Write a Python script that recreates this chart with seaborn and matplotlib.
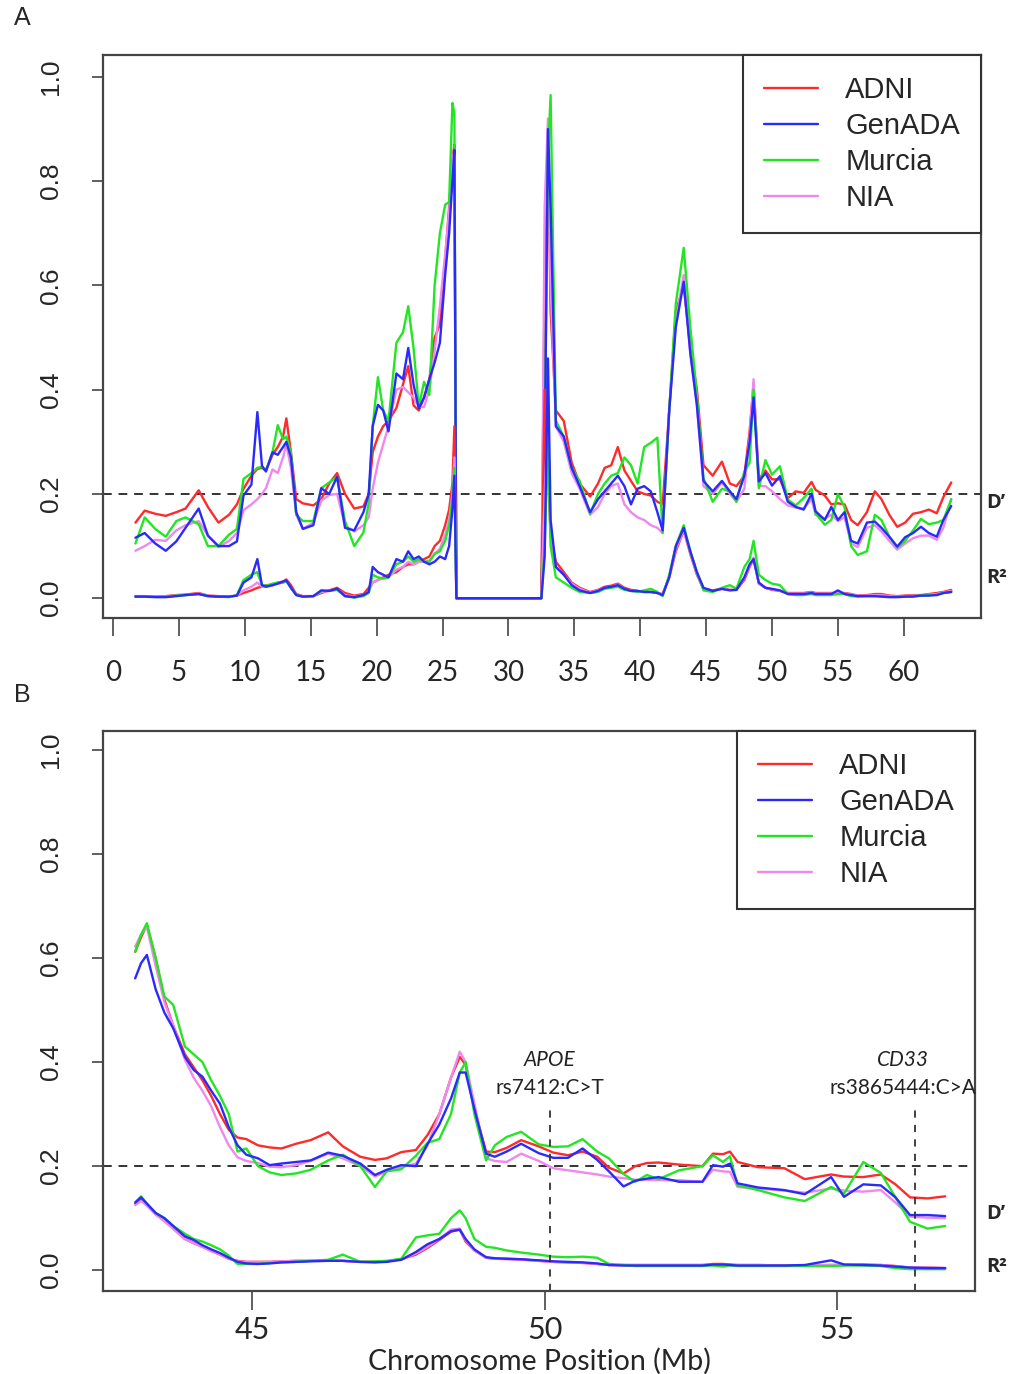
import numpy as np
import pandas as pd
import matplotlib
matplotlib.use("Agg")
import matplotlib.pyplot as plt
from matplotlib.lines import Line2D
from matplotlib import font_manager
import seaborn as sns

# ---------------- data: panel A (whole region) ----------------
cohorts = ["ADNI", "GenADA", "Murcia", "NIA"]
colors = {"ADNI": "#FF2A2A", "GenADA": "#2A2AFF", "Murcia": "#22E622", "NIA": "#EE88EE"}

pos_a = [1.7, 2.4, 3.2, 4.0, 4.8, 5.5, 6.5, 7.2, 8.0, 8.8,
         9.4, 9.9, 10.5, 10.95, 11.3, 11.6, 12.1, 12.5, 12.9, 13.15,
         13.5, 13.9, 14.4, 15.2, 15.8, 16.4, 17.0, 17.6, 18.3, 19.0,
         19.4, 19.7, 20.1, 20.5, 20.9, 21.5, 22.0, 22.4, 22.8, 23.2,
         23.6, 24.0, 24.4, 24.8, 25.2, 25.5, 25.75, 25.9, 26.05, 32.5,
         32.75, 33.0, 33.2, 33.6, 34.2, 34.8, 35.4, 36.2, 36.8, 37.3,
         37.8, 38.3, 38.8, 39.3, 39.8, 40.3, 40.8, 41.3, 41.7, 42.2,
         42.7, 43.3, 43.8, 44.3, 44.8, 45.5, 46.2, 46.8, 47.3, 47.9,
         48.3, 48.6, 49.0, 49.5, 50.0, 50.6, 51.2, 51.8, 52.4, 53.0,
         53.3, 54.0, 54.5, 55.0, 55.5, 56.0, 56.5, 57.2, 57.8, 58.3,
         58.9, 59.5, 60.1, 60.7, 61.3, 61.9, 62.5, 63.0, 63.6]

dprime_a_adni = [0.145, 0.168, 0.162, 0.158, 0.165, 0.172, 0.207, 0.175, 0.145, 0.160,
                 0.180, 0.210, 0.235, 0.248, 0.250, 0.245, 0.275, 0.290, 0.310, 0.345,
                 0.280, 0.190, 0.182, 0.178, 0.190, 0.220, 0.240, 0.200, 0.172, 0.176,
                 0.200, 0.280, 0.310, 0.330, 0.340, 0.365, 0.410, 0.445, 0.370, 0.360,
                 0.385, 0.420, 0.500, 0.525, 0.650, 0.750, 0.840, 0.870, 0.000, 0.000,
                 0.600, 0.880, 0.550, 0.360, 0.340, 0.260, 0.220, 0.195, 0.220, 0.250,
                 0.255, 0.290, 0.245, 0.225, 0.205, 0.200, 0.197, 0.185, 0.180, 0.360,
                 0.550, 0.600, 0.480, 0.400, 0.255, 0.235, 0.262, 0.220, 0.215, 0.235,
                 0.320, 0.410, 0.228, 0.245, 0.228, 0.228, 0.192, 0.205, 0.202, 0.223,
                 0.208, 0.197, 0.180, 0.182, 0.180, 0.150, 0.140, 0.165, 0.205, 0.190,
                 0.160, 0.137, 0.145, 0.162, 0.165, 0.170, 0.163, 0.194, 0.222]
dprime_a_genada = [0.116, 0.125, 0.105, 0.091, 0.109, 0.135, 0.172, 0.120, 0.100, 0.100,
                   0.109, 0.197, 0.218, 0.357, 0.254, 0.243, 0.280, 0.275, 0.290, 0.300,
                   0.270, 0.165, 0.133, 0.140, 0.211, 0.200, 0.233, 0.135, 0.130, 0.165,
                   0.200, 0.330, 0.371, 0.360, 0.320, 0.431, 0.420, 0.480, 0.410, 0.364,
                   0.385, 0.420, 0.452, 0.490, 0.620, 0.700, 0.800, 0.860, 0.000, 0.000,
                   0.250, 0.900, 0.750, 0.330, 0.310, 0.250, 0.215, 0.165, 0.190, 0.205,
                   0.220, 0.235, 0.215, 0.180, 0.210, 0.215, 0.205, 0.165, 0.130, 0.360,
                   0.520, 0.607, 0.470, 0.370, 0.225, 0.205, 0.225, 0.205, 0.190, 0.235,
                   0.300, 0.385, 0.224, 0.240, 0.216, 0.234, 0.185, 0.175, 0.170, 0.200,
                   0.167, 0.150, 0.175, 0.150, 0.165, 0.110, 0.105, 0.145, 0.147, 0.135,
                   0.118, 0.099, 0.117, 0.125, 0.137, 0.125, 0.118, 0.150, 0.177]
dprime_a_murcia = [0.105, 0.155, 0.133, 0.118, 0.148, 0.155, 0.142, 0.100, 0.100, 0.122,
                   0.133, 0.229, 0.240, 0.250, 0.252, 0.245, 0.280, 0.332, 0.305, 0.310,
                   0.280, 0.160, 0.148, 0.148, 0.211, 0.222, 0.233, 0.148, 0.100, 0.126,
                   0.183, 0.330, 0.424, 0.360, 0.340, 0.490, 0.510, 0.560, 0.480, 0.367,
                   0.415, 0.390, 0.600, 0.700, 0.755, 0.760, 0.950, 0.930, 0.000, 0.000,
                   0.300, 0.850, 0.965, 0.340, 0.310, 0.250, 0.225, 0.162, 0.200, 0.220,
                   0.235, 0.240, 0.270, 0.255, 0.220, 0.290, 0.298, 0.308, 0.125, 0.360,
                   0.565, 0.672, 0.520, 0.390, 0.230, 0.185, 0.210, 0.205, 0.185, 0.243,
                   0.260, 0.400, 0.211, 0.265, 0.237, 0.253, 0.189, 0.178, 0.192, 0.210,
                   0.163, 0.141, 0.150, 0.200, 0.175, 0.100, 0.083, 0.090, 0.160, 0.150,
                   0.118, 0.097, 0.110, 0.130, 0.152, 0.142, 0.145, 0.150, 0.190]
dprime_a_nia = [0.091, 0.100, 0.112, 0.110, 0.130, 0.140, 0.148, 0.120, 0.098, 0.110,
                0.125, 0.169, 0.180, 0.190, 0.200, 0.211, 0.247, 0.240, 0.270, 0.295,
                0.250, 0.160, 0.133, 0.145, 0.187, 0.198, 0.200, 0.140, 0.128, 0.140,
                0.155, 0.210, 0.260, 0.295, 0.330, 0.400, 0.405, 0.395, 0.385, 0.367,
                0.367, 0.400, 0.474, 0.560, 0.660, 0.740, 0.840, 0.860, 0.000, 0.000,
                0.750, 0.920, 0.600, 0.330, 0.300, 0.240, 0.210, 0.160, 0.175, 0.200,
                0.215, 0.220, 0.180, 0.165, 0.155, 0.150, 0.140, 0.135, 0.125, 0.360,
                0.530, 0.620, 0.470, 0.370, 0.215, 0.200, 0.222, 0.200, 0.185, 0.210,
                0.310, 0.420, 0.215, 0.215, 0.205, 0.190, 0.178, 0.174, 0.172, 0.190,
                0.160, 0.153, 0.160, 0.148, 0.155, 0.105, 0.098, 0.135, 0.140, 0.128,
                0.110, 0.093, 0.105, 0.115, 0.120, 0.120, 0.112, 0.135, 0.190]

r2_a_adni = [0.004, 0.004, 0.003, 0.004, 0.006, 0.007, 0.010, 0.005, 0.004, 0.003,
             0.005, 0.010, 0.015, 0.020, 0.022, 0.025, 0.025, 0.030, 0.032, 0.036,
             0.025, 0.008, 0.004, 0.004, 0.010, 0.015, 0.020, 0.010, 0.005, 0.008,
             0.020, 0.030, 0.035, 0.040, 0.045, 0.050, 0.060, 0.065, 0.065, 0.070,
             0.075, 0.080, 0.100, 0.110, 0.140, 0.170, 0.220, 0.330, 0.000, 0.000,
             0.400, 0.250, 0.120, 0.070, 0.050, 0.030, 0.020, 0.012, 0.016, 0.022,
             0.024, 0.028, 0.020, 0.016, 0.014, 0.012, 0.012, 0.010, 0.008, 0.040,
             0.090, 0.130, 0.085, 0.045, 0.018, 0.015, 0.018, 0.016, 0.016, 0.035,
             0.060, 0.075, 0.028, 0.020, 0.016, 0.014, 0.010, 0.010, 0.010, 0.012,
             0.010, 0.010, 0.010, 0.010, 0.010, 0.008, 0.005, 0.006, 0.008, 0.008,
             0.005, 0.004, 0.005, 0.006, 0.006, 0.008, 0.010, 0.012, 0.016]
r2_a_genada = [0.003, 0.003, 0.002, 0.002, 0.004, 0.006, 0.008, 0.004, 0.003, 0.003,
               0.005, 0.030, 0.040, 0.075, 0.025, 0.022, 0.025, 0.028, 0.032, 0.034,
               0.020, 0.006, 0.003, 0.004, 0.015, 0.014, 0.018, 0.004, 0.002, 0.006,
               0.012, 0.060, 0.050, 0.045, 0.040, 0.075, 0.070, 0.090, 0.075, 0.080,
               0.070, 0.065, 0.070, 0.080, 0.075, 0.100, 0.170, 0.235, 0.000, 0.000,
               0.080, 0.460, 0.150, 0.060, 0.045, 0.025, 0.015, 0.010, 0.014, 0.020,
               0.022, 0.025, 0.018, 0.014, 0.014, 0.012, 0.012, 0.010, 0.006, 0.040,
               0.100, 0.135, 0.090, 0.050, 0.020, 0.014, 0.018, 0.015, 0.016, 0.040,
               0.065, 0.075, 0.030, 0.020, 0.018, 0.015, 0.008, 0.008, 0.008, 0.010,
               0.008, 0.008, 0.008, 0.015, 0.008, 0.006, 0.004, 0.004, 0.004, 0.003,
               0.002, 0.002, 0.003, 0.003, 0.005, 0.005, 0.006, 0.010, 0.012]
r2_a_murcia = [0.003, 0.004, 0.003, 0.003, 0.005, 0.006, 0.008, 0.004, 0.003, 0.002,
               0.006, 0.035, 0.045, 0.050, 0.025, 0.024, 0.028, 0.030, 0.030, 0.033,
               0.020, 0.006, 0.003, 0.004, 0.014, 0.014, 0.016, 0.004, 0.001, 0.004,
               0.010, 0.045, 0.040, 0.038, 0.040, 0.065, 0.070, 0.080, 0.070, 0.075,
               0.070, 0.070, 0.085, 0.090, 0.110, 0.140, 0.190, 0.250, 0.000, 0.000,
               0.100, 0.300, 0.100, 0.040, 0.030, 0.020, 0.012, 0.010, 0.012, 0.018,
               0.020, 0.022, 0.016, 0.014, 0.012, 0.015, 0.018, 0.012, 0.004, 0.045,
               0.100, 0.140, 0.090, 0.050, 0.015, 0.012, 0.020, 0.025, 0.018, 0.060,
               0.075, 0.110, 0.045, 0.035, 0.028, 0.025, 0.008, 0.006, 0.006, 0.008,
               0.006, 0.006, 0.006, 0.008, 0.008, 0.004, 0.003, 0.004, 0.004, 0.004,
               0.003, 0.003, 0.004, 0.004, 0.005, 0.006, 0.007, 0.010, 0.012]
r2_a_nia = [0.003, 0.003, 0.003, 0.003, 0.005, 0.006, 0.009, 0.005, 0.003, 0.003,
            0.005, 0.015, 0.022, 0.030, 0.022, 0.022, 0.025, 0.028, 0.030, 0.033,
            0.020, 0.007, 0.004, 0.004, 0.012, 0.014, 0.017, 0.006, 0.003, 0.006,
            0.012, 0.030, 0.035, 0.038, 0.040, 0.055, 0.060, 0.070, 0.065, 0.070,
            0.070, 0.072, 0.085, 0.095, 0.120, 0.150, 0.200, 0.270, 0.000, 0.000,
            0.200, 0.350, 0.120, 0.060, 0.045, 0.028, 0.018, 0.011, 0.015, 0.020,
            0.022, 0.026, 0.018, 0.014, 0.013, 0.012, 0.012, 0.010, 0.007, 0.040,
            0.095, 0.130, 0.088, 0.047, 0.018, 0.014, 0.018, 0.016, 0.016, 0.038,
            0.062, 0.078, 0.028, 0.020, 0.017, 0.014, 0.009, 0.009, 0.009, 0.011,
            0.009, 0.009, 0.009, 0.010, 0.009, 0.007, 0.005, 0.005, 0.006, 0.006,
            0.004, 0.003, 0.004, 0.005, 0.005, 0.007, 0.008, 0.011, 0.014]

# ---------------- data: panel B (zoom 43-57 Mb) ----------------
pos_b = [43.0, 43.1, 43.2, 43.35, 43.5, 43.65, 43.85, 44.0, 44.15, 44.3,
         44.45, 44.6, 44.75, 44.9, 45.1, 45.3, 45.5, 45.75, 46.0, 46.3,
         46.55, 46.85, 47.1, 47.3, 47.55, 47.8, 48.0, 48.2, 48.4, 48.55,
         48.65, 48.8, 49.0, 49.15, 49.35, 49.6, 49.9, 50.15, 50.4, 50.65,
         50.9, 51.1, 51.35, 51.55, 51.75, 51.95, 52.3, 52.7, 52.88, 53.05,
         53.17, 53.3, 53.65, 54.1, 54.45, 54.9, 55.12, 55.45, 55.75, 56.0,
         56.25, 56.55, 56.85]

dprime_b_adni = [0.612, 0.640, 0.663, 0.600, 0.520, 0.470, 0.415, 0.390, 0.365, 0.335,
                 0.300, 0.270, 0.255, 0.252, 0.240, 0.236, 0.234, 0.243, 0.250, 0.265,
                 0.238, 0.218, 0.212, 0.215, 0.227, 0.231, 0.260, 0.300, 0.370, 0.410,
                 0.395, 0.310, 0.228, 0.227, 0.235, 0.250, 0.238, 0.226, 0.221, 0.228,
                 0.218, 0.197, 0.186, 0.200, 0.206, 0.207, 0.203, 0.200, 0.224, 0.223,
                 0.228, 0.208, 0.198, 0.196, 0.175, 0.184, 0.180, 0.179, 0.184, 0.165,
                 0.140, 0.138, 0.142]
dprime_b_genada = [0.561, 0.590, 0.606, 0.540, 0.495, 0.465, 0.410, 0.385, 0.372, 0.345,
                   0.320, 0.275, 0.240, 0.222, 0.215, 0.202, 0.205, 0.208, 0.211, 0.226,
                   0.220, 0.205, 0.183, 0.193, 0.202, 0.200, 0.243, 0.280, 0.330, 0.380,
                   0.380, 0.310, 0.224, 0.218, 0.228, 0.243, 0.225, 0.216, 0.216, 0.234,
                   0.212, 0.190, 0.161, 0.172, 0.176, 0.179, 0.170, 0.170, 0.202, 0.199,
                   0.205, 0.167, 0.159, 0.154, 0.146, 0.179, 0.141, 0.165, 0.163, 0.140,
                   0.106, 0.106, 0.104]
dprime_b_murcia = [0.612, 0.645, 0.667, 0.600, 0.526, 0.510, 0.430, 0.415, 0.400, 0.365,
                   0.335, 0.300, 0.228, 0.234, 0.200, 0.188, 0.183, 0.186, 0.193, 0.211,
                   0.222, 0.200, 0.160, 0.190, 0.194, 0.220, 0.245, 0.252, 0.300, 0.380,
                   0.400, 0.300, 0.211, 0.240, 0.256, 0.266, 0.242, 0.237, 0.238, 0.252,
                   0.228, 0.215, 0.185, 0.170, 0.183, 0.175, 0.192, 0.200, 0.221, 0.208,
                   0.219, 0.163, 0.154, 0.140, 0.133, 0.160, 0.147, 0.208, 0.187, 0.140,
                   0.093, 0.080, 0.085]
dprime_b_nia = [0.622, 0.645, 0.660, 0.585, 0.515, 0.470, 0.405, 0.370, 0.345, 0.315,
                0.275, 0.240, 0.217, 0.210, 0.206, 0.199, 0.198, 0.202, 0.210, 0.224,
                0.215, 0.200, 0.180, 0.190, 0.198, 0.205, 0.240, 0.300, 0.370, 0.420,
                0.400, 0.320, 0.215, 0.210, 0.208, 0.224, 0.210, 0.196, 0.192, 0.188,
                0.184, 0.180, 0.177, 0.174, 0.174, 0.173, 0.173, 0.170, 0.193, 0.190,
                0.189, 0.160, 0.157, 0.153, 0.149, 0.157, 0.153, 0.151, 0.154, 0.130,
                0.103, 0.101, 0.100]

r2_b_adni = [0.128, 0.135, 0.125, 0.108, 0.095, 0.080, 0.060, 0.052, 0.045, 0.037,
             0.030, 0.022, 0.018, 0.016, 0.016, 0.016, 0.017, 0.018, 0.018, 0.019,
             0.018, 0.016, 0.016, 0.017, 0.021, 0.030, 0.043, 0.058, 0.074, 0.078,
             0.055, 0.038, 0.024, 0.022, 0.022, 0.021, 0.018, 0.016, 0.015, 0.014,
             0.012, 0.010, 0.010, 0.010, 0.010, 0.010, 0.010, 0.010, 0.012, 0.012,
             0.011, 0.010, 0.010, 0.009, 0.009, 0.010, 0.010, 0.011, 0.010, 0.008,
             0.005, 0.005, 0.004]
r2_b_genada = [0.130, 0.140, 0.128, 0.110, 0.100, 0.085, 0.065, 0.058, 0.048, 0.040,
               0.033, 0.024, 0.016, 0.013, 0.012, 0.013, 0.015, 0.016, 0.017, 0.018,
               0.018, 0.016, 0.015, 0.016, 0.020, 0.035, 0.050, 0.060, 0.075, 0.078,
               0.060, 0.040, 0.025, 0.023, 0.022, 0.021, 0.019, 0.017, 0.016, 0.015,
               0.013, 0.010, 0.009, 0.009, 0.009, 0.009, 0.009, 0.009, 0.011, 0.011,
               0.010, 0.009, 0.009, 0.009, 0.010, 0.019, 0.011, 0.010, 0.009, 0.007,
               0.005, 0.004, 0.004]
r2_b_murcia = [0.130, 0.142, 0.128, 0.110, 0.100, 0.085, 0.070, 0.060, 0.055, 0.048,
               0.040, 0.028, 0.012, 0.012, 0.012, 0.014, 0.015, 0.016, 0.018, 0.020,
               0.030, 0.016, 0.017, 0.018, 0.022, 0.063, 0.067, 0.070, 0.100, 0.115,
               0.100, 0.060, 0.045, 0.043, 0.038, 0.034, 0.030, 0.026, 0.025, 0.026,
               0.024, 0.012, 0.010, 0.008, 0.008, 0.008, 0.008, 0.008, 0.009, 0.007,
               0.009, 0.008, 0.008, 0.008, 0.008, 0.008, 0.009, 0.009, 0.008, 0.004,
               0.002, 0.002, 0.002]
r2_b_nia = [0.125, 0.133, 0.124, 0.107, 0.094, 0.080, 0.060, 0.052, 0.045, 0.037,
            0.030, 0.022, 0.017, 0.016, 0.016, 0.016, 0.017, 0.018, 0.018, 0.019,
            0.018, 0.016, 0.016, 0.017, 0.021, 0.032, 0.045, 0.060, 0.078, 0.080,
            0.058, 0.038, 0.024, 0.022, 0.021, 0.020, 0.018, 0.016, 0.015, 0.014,
            0.012, 0.010, 0.010, 0.010, 0.010, 0.010, 0.010, 0.010, 0.011, 0.011,
            0.010, 0.010, 0.010, 0.009, 0.009, 0.010, 0.010, 0.010, 0.010, 0.008,
            0.005, 0.005, 0.004]

threshold = 0.2
apoe_pos = 50.09
cd33_pos = 56.33
ytick_vals = [0.0, 0.2, 0.4, 0.6, 0.8, 1.0]
xticks_a = list(range(0, 61, 5))
xticks_b = [45, 50, 55]

# ---------------- long-form tables ----------------
def long_table(pos, dp, r2):
    rows = []
    for c in cohorts:
        for metric, src in (("Dprime", dp), ("R2", r2)):
            for x, v in zip(pos, src[c]):
                rows.append((c, metric, x, v))
    return pd.DataFrame(rows, columns=["cohort", "metric", "pos", "value"])

df_a = long_table(pos_a,
                  {"ADNI": dprime_a_adni, "GenADA": dprime_a_genada, "Murcia": dprime_a_murcia, "NIA": dprime_a_nia},
                  {"ADNI": r2_a_adni, "GenADA": r2_a_genada, "Murcia": r2_a_murcia, "NIA": r2_a_nia})
df_b = long_table(pos_b,
                  {"ADNI": dprime_b_adni, "GenADA": dprime_b_genada, "Murcia": dprime_b_murcia, "NIA": dprime_b_nia},
                  {"ADNI": r2_b_adni, "GenADA": r2_b_genada, "Murcia": r2_b_murcia, "NIA": r2_b_nia})

# ---------------- style ----------------
sns.set_theme(style="white")
names = {f.name for f in font_manager.fontManager.ttflist}
narrow = "Liberation Sans Narrow" if "Liberation Sans Narrow" in names else "Lato"
plt.rcParams["font.family"] = ["Liberation Sans", "DejaVu Sans"]
plt.rcParams["axes.linewidth"] = 1.5

fig = plt.figure(figsize=(10.09, 13.74), dpi=100)
axA = fig.add_axes([0.1021, 0.5502, 0.8702, 0.4098])
axB = fig.add_axes([0.1021, 0.0604, 0.8642, 0.4076])

draw_order = ["ADNI", "NIA", "Murcia", "GenADA"]

def draw(ax, df):
    for metric in ("Dprime", "R2"):
        for c in draw_order:
            sub = df[(df.cohort == c) & (df.metric == metric)]
            sns.lineplot(data=sub, x="pos", y="value", color=colors[c], lw=1.7,
                         estimator=None, sort=False, ax=ax, legend=False)
    ax.axhline(threshold, color="#333333", lw=1.4, ls=(0, (4.5, 3.5)), zorder=1)
    ax.set_xlabel("")
    ax.set_ylabel("")
    for s in ax.spines.values():
        s.set_color("#444444")
        s.set_linewidth(1.6)
    ax.set_yticks(ytick_vals)
    ax.set_yticklabels([f"{v:.1f}" for v in ytick_vals], rotation=90, va="center",
                       fontsize=19, family="Liberation Sans")
    ax.tick_params(axis="y", direction="out", length=8, width=1.2, color="#444444",
                   pad=21, left=True)
    handles = [Line2D([0], [0], color=colors[c], lw=1.7) for c in cohorts]
    leg = ax.legend(handles, cohorts, loc="upper right", bbox_to_anchor=(1, 1),
                    borderaxespad=0, frameon=True, fancybox=False, framealpha=1,
                    edgecolor="#333333", fontsize=21, handlelength=1.85,
                    handletextpad=0.95, borderpad=0.72, labelspacing=0.28)
    leg.get_frame().set_linewidth(1.5)

draw(axA, df_a)
draw(axB, df_b)

# panel A axes
axA.set_xlim(-0.76, 65.86)
axA.set_ylim(-0.038, 1.042)
axA.set_xticks(xticks_a)
axA.set_xticklabels([str(v) for v in xticks_a], fontsize=20, family=narrow)
axA.tick_params(axis="x", direction="out", length=13, width=1.2, color="#444444",
                pad=17, bottom=True)

# panel B axes
axB.set_xlim(42.45, 57.36)
axB.set_ylim(-0.04, 1.0365)
axB.set_xticks(xticks_b)
axB.set_xticklabels([str(v) for v in xticks_b], fontsize=22, family="Lato")
axB.tick_params(axis="x", direction="out", length=14, width=1.2, color="#444444",
                pad=4, bottom=True)
axB.set_xlabel("Chromosome Position (Mb)", fontsize=20.5, family="Lato", labelpad=3)

# SNP markers in B
for xpos in (apoe_pos, cd33_pos):
    axB.axvline(xpos, ymin=0, ymax=0.327, color="#333333", lw=1.3, ls=(0, (4, 4)))
axB.text(apoe_pos, 0.404, "APOE", style="italic", ha="center", va="center",
         fontsize=15, family="Lato", color="#222222")
axB.text(apoe_pos, 0.35, "rs7412:C>T", ha="center", va="center",
         fontsize=15, family="Lato", color="#222222")
axB.text(56.13, 0.404, "CD33", style="italic", ha="center", va="center",
         fontsize=15, family="Lato", color="#222222")
axB.text(56.13, 0.35, "rs3865444:C>A", ha="center", va="center",
         fontsize=15, family="Lato", color="#222222")

# D' / R² labels at the right
tA = axA.get_yaxis_transform()
axA.text(1.006, 0.182, "D\u2019", transform=tA, ha="left", va="center",
         fontsize=14.5, fontweight="bold", family="Open Sans")
axA.text(1.006, 0.038, "R\u00b2", transform=tA, ha="left", va="center",
         fontsize=14.5, fontweight="bold", family="Open Sans")
tB = axB.get_yaxis_transform()
axB.text(1.013, 0.108, "D\u2019", transform=tB, ha="left", va="center",
         fontsize=14.5, fontweight="bold", family="Open Sans")
axB.text(1.013, 0.006, "R\u00b2", transform=tB, ha="left", va="center",
         fontsize=14.5, fontweight="bold", family="Open Sans")

# panel letters
fig.text(22 / 1009, 1 - 18 / 1374, "A", fontsize=18, ha="center", va="center")
fig.text(22 / 1009, 1 - 695 / 1374, "B", fontsize=18, ha="center", va="center")

fig.savefig("out.png", dpi=100)
